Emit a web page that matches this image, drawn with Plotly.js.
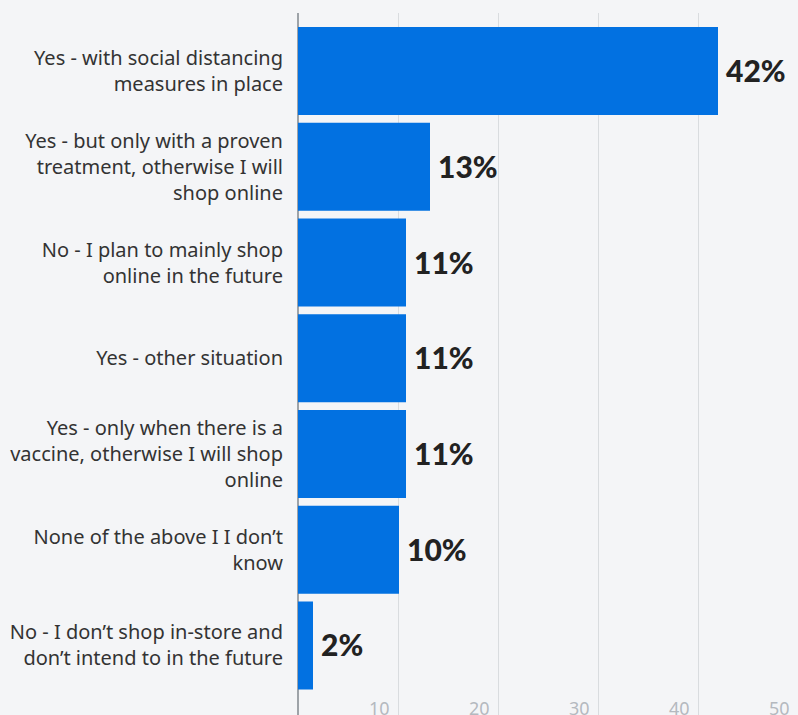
<!DOCTYPE html>
<html>
<head>
<meta charset="utf-8">
<script src="https://cdn.plot.ly/plotly-3.0.1.min.js"></script>
<style>html,body{margin:0;padding:0;background:#f4f5f7;}#chart{width:798px;height:715px;}</style>
</head>
<body>
<div id="chart"></div>
<script>
const categories = [
  "Yes - with social distancing<br>measures in place",
  "Yes - but only with a proven<br>treatment, otherwise I will<br>shop online",
  "No - I plan to mainly shop<br>online in the future",
  "Yes - other situation",
  "Yes - only when there is a<br>vaccine, otherwise I will shop<br>online",
  "None of the above I I don’t<br>know",
  "No - I don’t shop in-store and<br>don’t intend to in the future"
];
const values = [42, 13.2, 10.8, 10.8, 10.8, 10.1, 1.5];
const valueLabels = ["42%", "13%", "11%", "11%", "11%", "10%", "2%"];
const xTicks = [0, 10, 20, 30, 40, 50];
const xTickText = ["", "10", "20", "30", "40", "50"];

const trace = {
  type: 'bar',
  orientation: 'h',
  x: values,
  y: categories,
  marker: {color: '#0271e1'},
  hoverinfo: 'none'
};

const annotations = [];
values.forEach((v, i) => {
  annotations.push({
    x: v, y: categories[i], xref: 'x', yref: 'y',
    text: valueLabels[i], showarrow: false,
    xanchor: 'left', yanchor: 'middle', xshift: 6, yshift: 1,
    font: {family: 'Lato', size: 30, weight: 900, color: '#222222'}
  });
});
xTicks.forEach((t, i) => {
  if (!xTickText[i]) return;
  annotations.push({
    x: t, y: 0, xref: 'x', yref: 'paper',
    text: xTickText[i], showarrow: false,
    xanchor: 'right', yanchor: 'top', xshift: -6, yshift: 21,
    font: {family: 'Noto Sans', size: 18, color: '#b4b9bf'}
  });
});

const layout = {
  width: 798, height: 715,
  margin: {l: 298, r: 0, t: 13, b: 0, pad: 0},
  paper_bgcolor: '#f4f5f7',
  plot_bgcolor: '#f4f5f7',
  showlegend: false,
  bargap: 0.083,
  annotations: annotations,
  xaxis: {
    range: [0, 50],
    tickvals: xTicks,
    showticklabels: false,
    showgrid: true,
    gridcolor: '#d9dcdf',
    gridwidth: 1,
    zeroline: true,
    zerolinecolor: '#9ea3a8',
    zerolinewidth: 1.5,
    showline: false,
    fixedrange: true
  },
  yaxis: {
    type: 'category',
    range: [6.726, -0.606],
    ticks: 'outside',
    ticklen: 10,
    tickcolor: 'rgba(0,0,0,0)',
    showgrid: false,
    showline: false,
    tickfont: {family: 'Noto Sans', size: 20, color: '#333333'},
    fixedrange: true
  }
};

Plotly.newPlot('chart', [trace], layout, {displayModeBar: false, staticPlot: true});
</script>
</body>
</html>
